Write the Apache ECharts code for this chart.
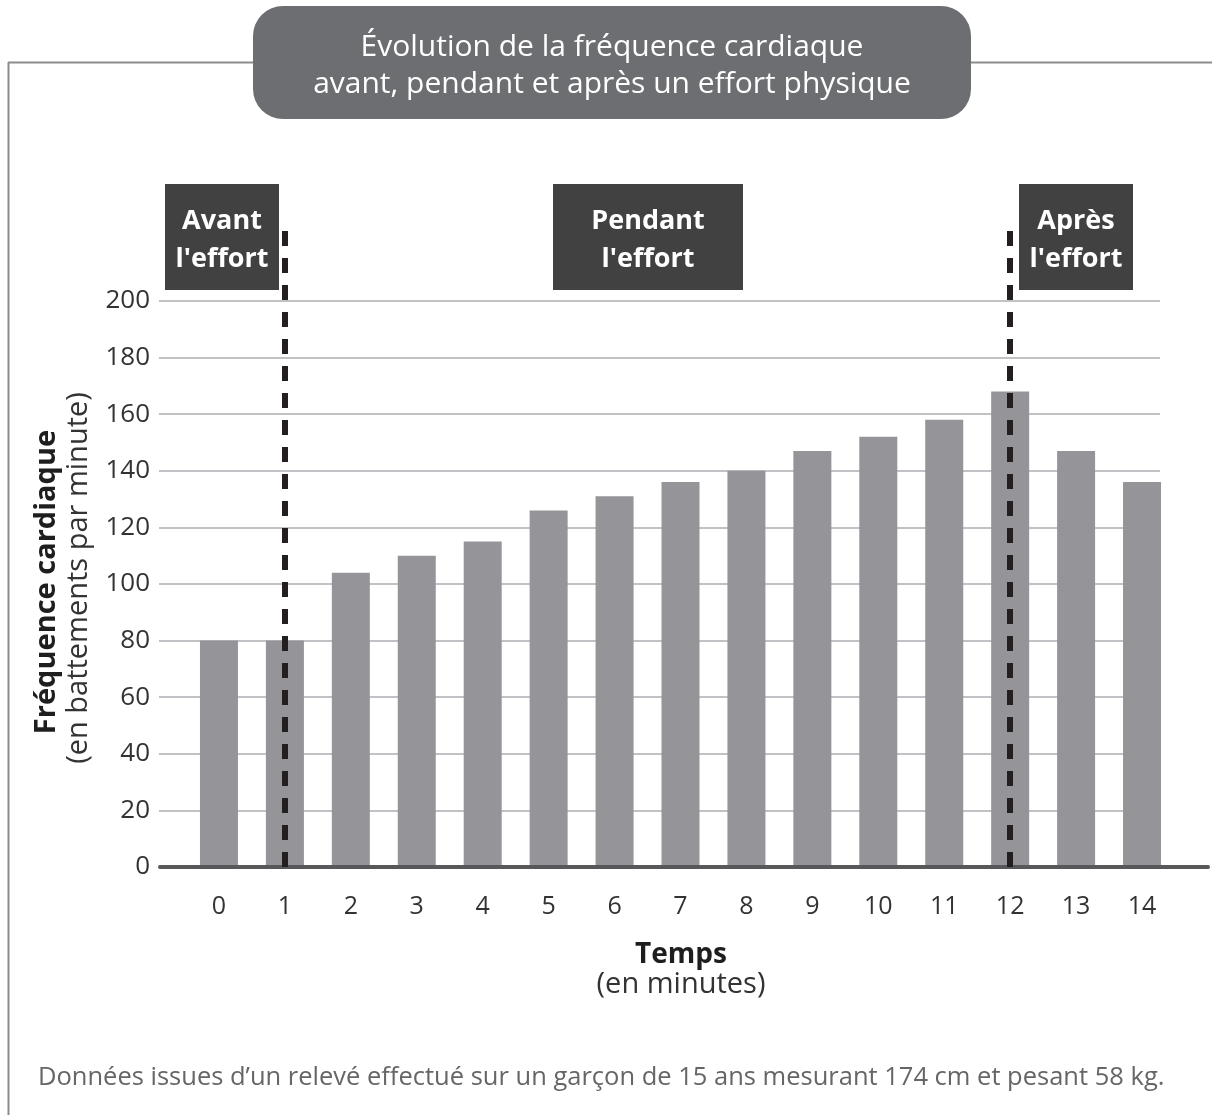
<!DOCTYPE html>
<html lang="fr">
<head>
<meta charset="utf-8">
<title>Fréquence cardiaque et effort physique</title>
<script src="https://cdn.jsdelivr.net/npm/echarts@6/dist/echarts.min.js"></script>
<style>
  html, body { margin: 0; padding: 0; background: #ffffff; }
  #chart { width: 1212px; height: 1115px; }
</style>
</head>
<body>
<div id="chart"></div>
<script>
// Temps écoulé (minutes) et fréquence cardiaque mesurée (battements par minute)
const minutes = ['0', '1', '2', '3', '4', '5', '6', '7', '8', '9', '10', '11', '12', '13', '14'];
const frequence = [80, 80, 104, 110, 115, 126, 131, 136, 140, 147, 152, 158, 168, 147, 136];

// Graduations de l'axe vertical
const yMin = 0;
const yMax = 200;
const yStep = 20;

// Limites des phases : début et fin de l'effort
const debutEffort = '1';
const finEffort = '12';

const FONT = '"Open Sans", "Noto Sans", sans-serif';

// Géométrie commune des repères
const plotTop = 301;      // ordonnée du trait 200
const plotBottom = 867;   // ordonnée de l'axe 0
const barsTop = 225;      // haut des traits pointillés
const H = 1115, W = 1212;
// le repère des barres monte plus haut : même échelle, borne supérieure prolongée
const barsMax = yMax * (plotBottom - barsTop) / (plotBottom - plotTop);

const chart = echarts.init(document.getElementById('chart'), null, { renderer: 'canvas' });

const option = {
  animation: false,
  backgroundColor: '#ffffff',
  textStyle: { fontFamily: FONT },
  grid: [
    // graduations et lignes de fond
    { left: 159, right: W - 1160, top: plotTop, bottom: H - plotBottom },
    // barres
    { left: 186, right: W - 1175, top: barsTop, bottom: H - plotBottom },
    // axe horizontal épais
    { left: 160, right: W - 1208, top: plotTop, bottom: H - plotBottom }
  ],
  xAxis: [
    { gridIndex: 0, type: 'value', min: 0, max: 1, show: false },
    {
      gridIndex: 1, type: 'category', data: minutes,
      axisLine: { show: false }, axisTick: { show: false },
      axisLabel: { fontSize: 25, color: '#333333', margin: 27, fontFamily: FONT }
    },
    {
      gridIndex: 2, type: 'value', min: 0, max: 1,
      axisLine: { show: true, lineStyle: { color: '#58585b', width: 4 } },
      axisTick: { show: false }, axisLabel: { show: false }, splitLine: { show: false },
      z: 3
    }
  ],
  yAxis: [
    {
      gridIndex: 0, type: 'value', min: yMin, max: yMax, interval: yStep,
      axisLine: { show: false }, axisTick: { show: false },
      axisLabel: { fontSize: 26, color: '#333333', margin: 9, fontFamily: FONT },
      splitLine: { show: true, lineStyle: { color: '#c2c2c6', width: 2 } }
    },
    { gridIndex: 1, type: 'value', min: yMin, max: barsMax, show: false },
    { gridIndex: 2, type: 'value', min: 0, max: 1, show: false }
  ],
  series: [
    {
      type: 'bar',
      xAxisIndex: 1, yAxisIndex: 1,
      data: frequence,
      barWidth: 38,
      itemStyle: { color: '#959599' },
      markLine: {
        silent: true,
        symbol: 'none',
        label: { show: false },
        lineStyle: { color: '#231f20', width: 6, type: [15, 12] },
        data: [{ xAxis: debutEffort }, { xAxis: finEffort }]
      }
    }
  ],
  graphic: [
    // cadre
    { type: 'line', shape: { x1: 8, y1: 62.5, x2: 260, y2: 62.5 }, style: { stroke: '#8c8c8c', lineWidth: 2 } },
    { type: 'line', shape: { x1: 960, y1: 62.5, x2: 1212, y2: 62.5 }, style: { stroke: '#8c8c8c', lineWidth: 2 } },
    { type: 'line', shape: { x1: 8.5, y1: 62, x2: 8.5, y2: 1115 }, style: { stroke: '#8c8c8c', lineWidth: 2 } },
    // titre
    { type: 'rect', shape: { x: 253, y: 6, width: 718, height: 113, r: 30 }, style: { fill: '#6d6e71' }, z: 5 },
    {
      type: 'text', x: 612, y: 47, z: 6,
      style: { text: 'Évolution de la fréquence cardiaque', fill: '#ffffff', font: '30px ' + FONT, textAlign: 'center', textVerticalAlign: 'middle' }
    },
    {
      type: 'text', x: 612, y: 84, z: 6,
      style: { text: 'avant, pendant et après un effort physique', fill: '#ffffff', font: '30px ' + FONT, textAlign: 'center', textVerticalAlign: 'middle' }
    },
    // phases
    { type: 'rect', shape: { x: 165, y: 184, width: 114, height: 106 }, style: { fill: '#414142' }, z: 5 },
    {
      type: 'text', x: 222, y: 240, z: 6,
      style: { text: 'Avant\nl\'effort', fill: '#ffffff', font: 'bold 27px ' + FONT, lineHeight: 38, textAlign: 'center', textVerticalAlign: 'middle' }
    },
    { type: 'rect', shape: { x: 553, y: 184, width: 190, height: 106 }, style: { fill: '#414142' }, z: 5 },
    {
      type: 'text', x: 648, y: 240, z: 6,
      style: { text: 'Pendant\nl\'effort', fill: '#ffffff', font: 'bold 27px ' + FONT, lineHeight: 38, textAlign: 'center', textVerticalAlign: 'middle' }
    },
    { type: 'rect', shape: { x: 1019, y: 184, width: 114, height: 106 }, style: { fill: '#414142' }, z: 5 },
    {
      type: 'text', x: 1076, y: 240, z: 6,
      style: { text: 'Après\nl\'effort', fill: '#ffffff', font: 'bold 27px ' + FONT, lineHeight: 38, textAlign: 'center', textVerticalAlign: 'middle' }
    },
    // titre de l'axe vertical
    {
      type: 'text', x: 47, y: 582, rotation: Math.PI / 2, z: 6,
      style: { text: 'Fréquence cardiaque', fill: '#1e1e1e', font: 'bold 29px ' + FONT, textAlign: 'center', textVerticalAlign: 'middle' }
    },
    {
      type: 'text', x: 79, y: 578, rotation: Math.PI / 2, z: 6,
      style: { text: '(en battements par minute)', fill: '#333333', font: '29px ' + FONT, textAlign: 'center', textVerticalAlign: 'middle' }
    },
    // titre de l'axe horizontal
    {
      type: 'text', x: 681, y: 955, z: 6,
      style: { text: 'Temps', fill: '#1e1e1e', font: 'bold 28px ' + FONT, textAlign: 'center', textVerticalAlign: 'middle' }
    },
    {
      type: 'text', x: 681, y: 985, z: 6,
      style: { text: '(en minutes)', fill: '#333333', font: '29px ' + FONT, textAlign: 'center', textVerticalAlign: 'middle' }
    },
    // source
    {
      type: 'text', x: 38, y: 1078, z: 6,
      style: { text: 'Données issues d’un relevé effectué sur un garçon de 15 ans mesurant 174 cm et pesant 58 kg.', fill: '#666666', font: '25.5px ' + FONT, textAlign: 'left', textVerticalAlign: 'middle' }
    }
  ]
};

chart.setOption(option);
</script>
</body>
</html>
